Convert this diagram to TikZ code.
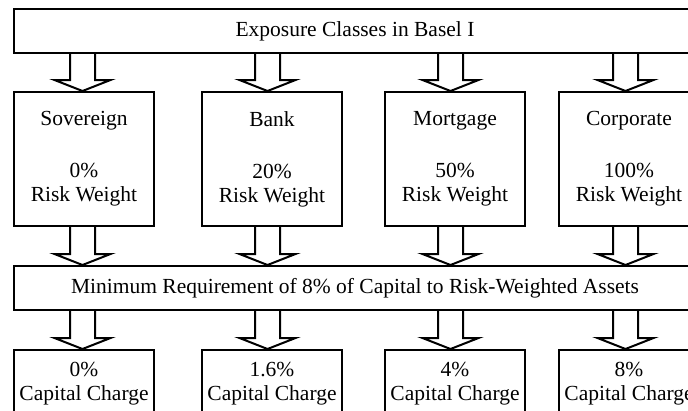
\documentclass[tikz,border=0pt]{standalone}
\usepackage{fontspec}
\setmainfont{Liberation Serif}
\usetikzlibrary{calc}
\tikzset{
  txt/.style={font=\fontsize{21.5}{24}\selectfont},
  wide/.style={draw, line width=2pt, minimum width=682pt, minimum height=44pt, inner sep=0pt, anchor=north west, txt},
  cls/.style={draw, line width=2pt, minimum width=140pt, minimum height=134pt, inner sep=0pt, align=center, anchor=north west, txt},
  chg/.style={draw, line width=2pt, minimum width=140pt, minimum height=68pt, inner sep=0pt, align=center, anchor=north west, txt},
  blk/.style={draw, line width=2pt, line join=miter}
}
\newcommand\blkarrow[3]{\draw[blk] let \p1=(#1.south), \p2=(#2.north) in
  ({#3pt-12.5pt},\y1) -- ({#3pt-12.5pt},{\y2+11pt}) -- ({#3pt-28pt},{\y2+11pt}) --
  (#3pt,\y2) -- ({#3pt+28pt},{\y2+11pt}) -- ({#3pt+12.5pt},{\y2+11pt}) -- ({#3pt+12.5pt},\y1);}
\begin{document}
\begin{tikzpicture}[x=1pt,y=-1pt]
\useasboundingbox (0,0) rectangle (688,410);
\node[wide] (top) at (13,8) {Exposure Classes in Basel I};
\node[cls] (sov) at (13,91) {Sovereign\\[28pt]0\%\\Risk Weight};
\node[cls] (bank) at (201,91) {Bank\\[28pt]20\%\\Risk Weight};
\node[cls] (mort) at (384,91) {Mortgage\\[28pt]50\%\\Risk Weight};
\node[cls] (corp) at (558,91) {Corporate\\[28pt]100\%\\Risk Weight};
\node[wide] (min) at (13,265) {Minimum Requirement of 8\% of Capital to Risk-Weighted Assets};
\node[chg] (c1) at (13,349) {0\%\\Capital Charge};
\node[chg] (c2) at (201,349) {1.6\%\\Capital Charge};
\node[chg] (c3) at (384,349) {4\%\\Capital Charge};
\node[chg] (c4) at (558,349) {8\%\\Capital Charge};
\blkarrow{top}{sov}{82.5}
\blkarrow{top}{bank}{267.5}
\blkarrow{top}{mort}{450.5}
\blkarrow{top}{corp}{625.5}
\blkarrow{sov}{min}{82.5}
\blkarrow{bank}{min}{267.5}
\blkarrow{mort}{min}{450.5}
\blkarrow{corp}{min}{625.5}
\blkarrow{min}{c1}{82.5}
\blkarrow{min}{c2}{267.5}
\blkarrow{min}{c3}{450.5}
\blkarrow{min}{c4}{625.5}
\end{tikzpicture}
\end{document}
